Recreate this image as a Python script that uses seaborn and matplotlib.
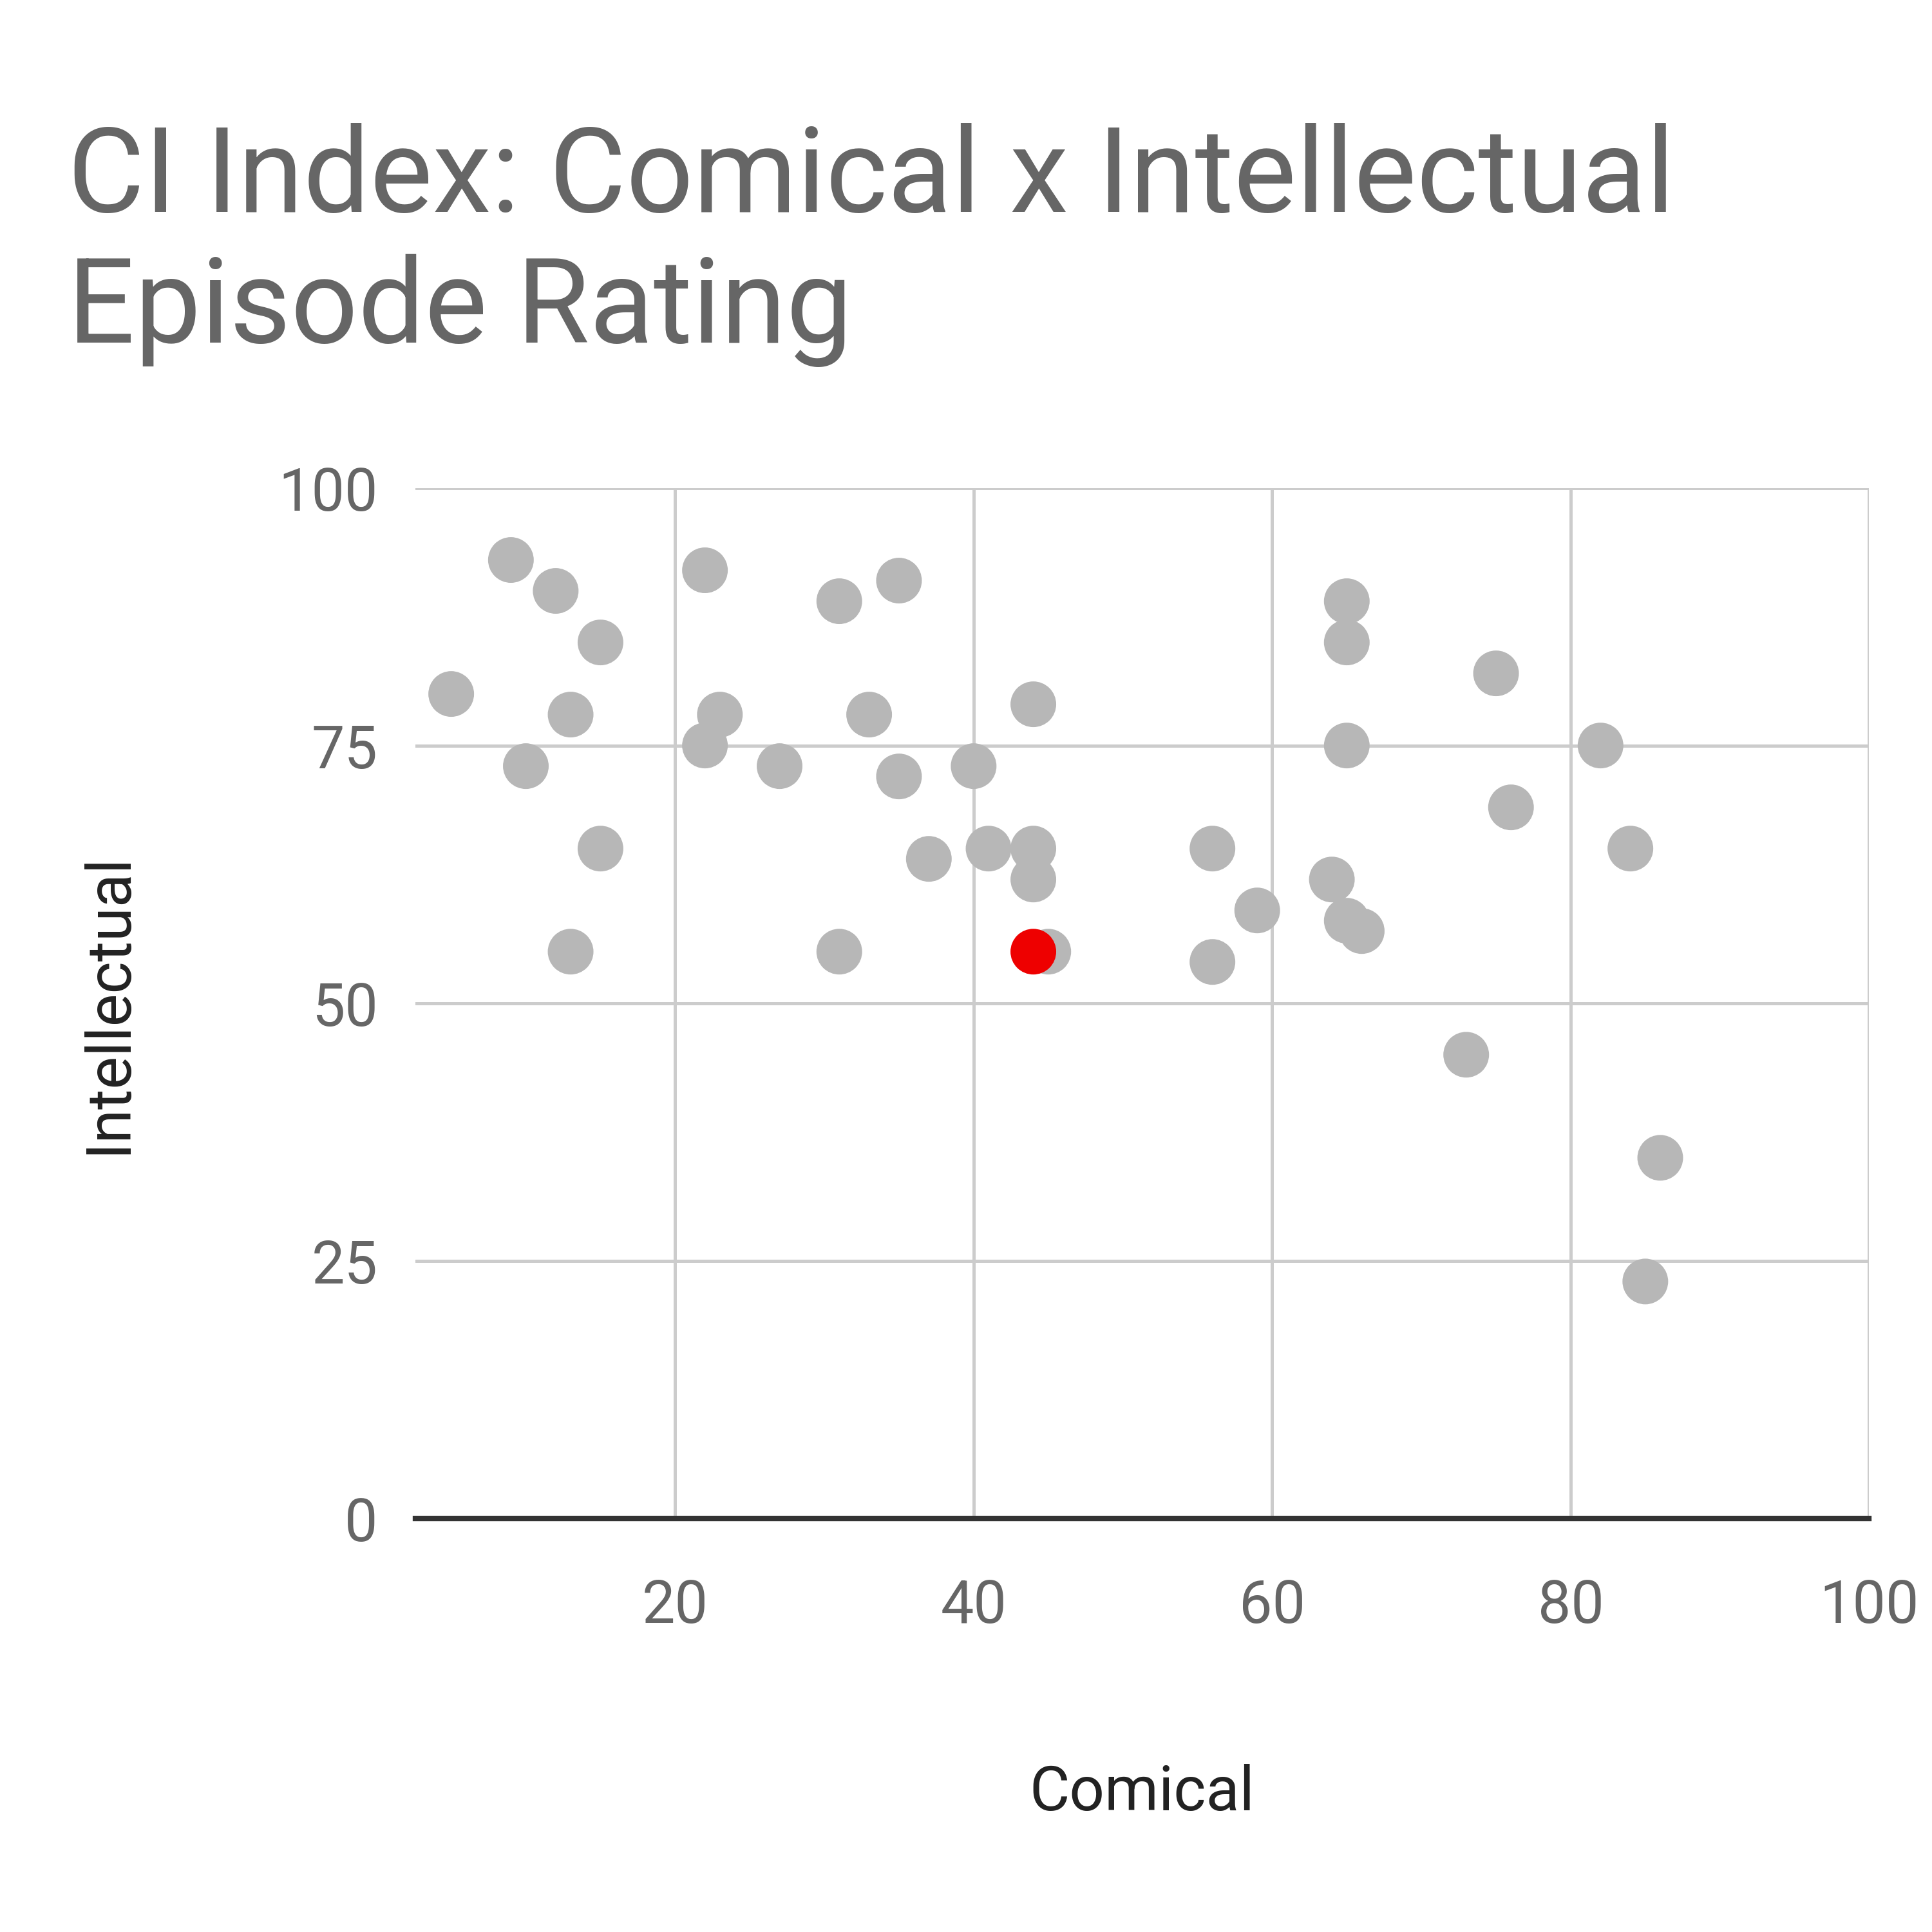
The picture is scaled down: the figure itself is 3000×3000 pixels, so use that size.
import matplotlib
matplotlib.use("Agg")
import matplotlib.pyplot as plt
import seaborn as sns
import pandas as pd

# Episode ratings
comical = [9, 12, 15, 5, 13, 10, 15, 13, 22, 23, 22, 27, 31, 35, 33, 35, 37, 31,
           40, 41, 44, 44, 44, 45, 56, 56, 59, 64, 65, 66, 65, 65, 65, 75, 76,
           82, 84, 73, 86, 85]
intellectual = [93, 90, 85, 80, 78, 73, 65, 55, 92, 78, 75, 73, 89, 91, 78, 72,
                64, 55, 73, 65, 79, 65, 62, 55, 65, 54, 59, 62, 58, 57, 89, 85,
                75, 82, 69, 75, 65, 45, 35, 23]
highlight_x = [44]
highlight_y = [55]

data = pd.DataFrame({"Comical": comical, "Intellectual": intellectual})
hl = pd.DataFrame({"Comical": highlight_x, "Intellectual": highlight_y})

sns.set_style("white")
plt.rcParams["font.family"] = ["Roboto", "DejaVu Sans"]

fig = plt.figure(figsize=(10, 10), dpi=300)
ax = fig.add_axes([0.215, 0.214, 0.7525, 0.5335])

sns.scatterplot(data=data, x="Comical", y="Intellectual", color="#b7b7b7",
                s=290, edgecolor="none", ax=ax, zorder=3)
sns.scatterplot(data=hl, x="Comical", y="Intellectual", color="#ee0000",
                s=290, edgecolor="none", ax=ax, zorder=4)

ax.set_xlim(2.6, 100)
ax.set_ylim(0, 100)
ax.set_xticks([20, 40, 60, 80, 100])
ax.set_yticks([0, 25, 50, 75, 100])
ax.grid(True, color="#cccccc", linewidth=1.2, zorder=0)
for side in ["top", "right", "left"]:
    ax.spines[side].set_visible(False)
ax.spines["bottom"].set_color("#333333")
ax.spines["bottom"].set_linewidth(2)
ax.tick_params(axis="both", length=0, labelsize=22, labelcolor="#666666")
ax.tick_params(axis="x", pad=22)
ax.tick_params(axis="y", pad=14)

ax.set_xlabel("Comical", fontsize=23, color="#222222", labelpad=48)
ax.set_ylabel("Intellectual", fontsize=23, color="#222222", labelpad=52)

fig.text(0.035, 0.81, "CI Index: Comical x Intellectual\nEpisode Rating",
         fontsize=44, color="#666666", ha="left", va="bottom", linespacing=1.2)

fig.savefig("out.png", dpi=300)
